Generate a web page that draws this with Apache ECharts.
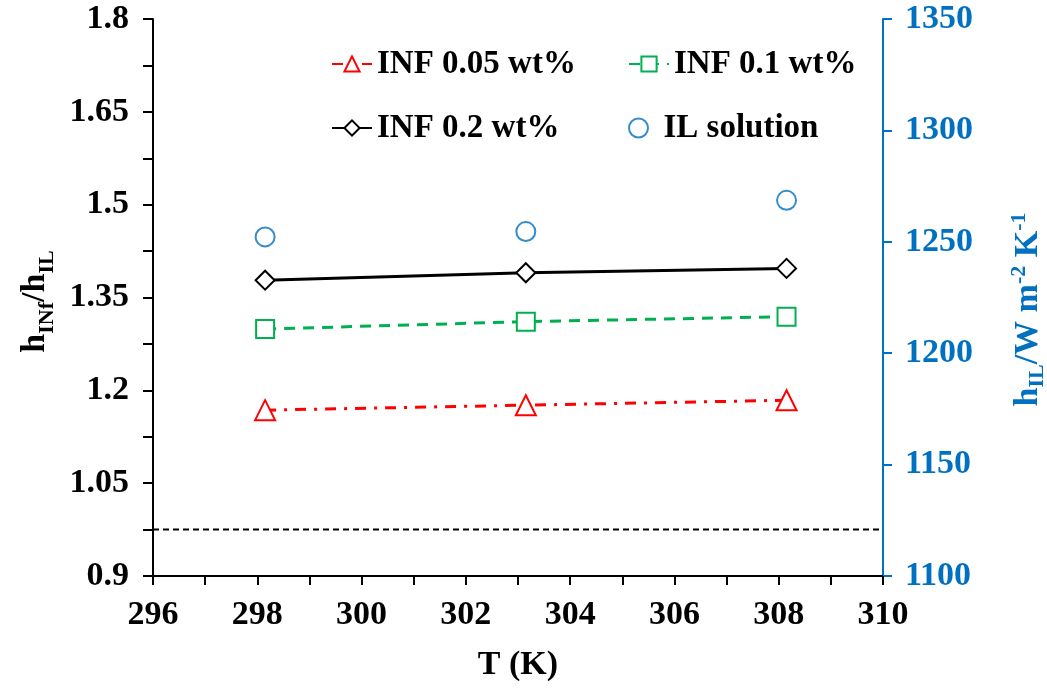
<!DOCTYPE html>
<html>
<head>
<meta charset="utf-8">
<script src="https://cdn.jsdelivr.net/npm/echarts@6/dist/echarts.min.js"></script>
<style>
html,body{margin:0;padding:0;background:#fff;}
#chart{width:1047px;height:696px;}
</style>
</head>
<body>
<div id="chart"></div>
<script>
// ---- data ----
const temperatures = [298.15, 303.15, 308.15];
const inf005 = [1.168, 1.176, 1.184];
const inf01 = [1.299, 1.311, 1.319];
const inf02 = [1.378, 1.390, 1.397];
const ilSolution = [1252.2, 1254.6, 1268.6];
const referenceLevel = 0.975;
const xRange = [296, 310];
const seriesNames = ['INF 0.05 wt%', 'INF 0.1 wt%', 'INF 0.2 wt%', 'IL solution'];

const FONT = '"Liberation Serif", "Times New Roman", serif';
const BLUE = '#0070C0';
const RED = '#FF0000';
const GREEN = '#00B050';

function pairs(xs, ys){ return xs.map((x,i)=>[x, ys[i]]); }

const chart = echarts.init(document.getElementById('chart'), null, {renderer:'canvas'});

const labelStyle = {fontFamily: FONT, fontWeight: 'bold', fontSize: 34, color: '#000'};
const legendText = {fontFamily: FONT, fontWeight: 'bold', fontSize: 33, color: '#000', lineHeight: 36};

function legendAt(name, left, top){
  return {
    data: [name], left: left, top: top, padding: 0, itemGap: 0,
    itemWidth: 40, itemHeight: 19, textStyle: legendText, selectedMode: false
  };
}

const option = {
  backgroundColor: '#fff',
  animation: false,
  grid: {left: 153, right: 164, top: 19, bottom: 120, containLabel: false, outerBoundsMode: 'none'},
  legend: [
    legendAt(seriesNames[0], 331, 46),
    legendAt(seriesNames[1], 628, 46),
    legendAt(seriesNames[2], 331, 110),
    legendAt(seriesNames[3], 628, 110)
  ],
  xAxis: [{
    type: 'value', min: xRange[0], max: xRange[1], interval: 2,
    name: 'T (K)', nameLocation: 'middle', nameGap: 72,
    nameTextStyle: labelStyle,
    axisLine: {show: true, onZero: false, lineStyle: {color: '#000', width: 2}},
    axisTick: {show: true, inside: false, length: 9, lineStyle: {color: '#000', width: 2}},
    minorTick: {show: true, splitNumber: 2, length: 9, lineStyle: {color: '#000', width: 2}},
    axisLabel: Object.assign({margin: 22}, labelStyle),
    splitLine: {show: false}
  }],
  yAxis: [{
    type: 'value', position: 'left', min: 0.9, max: 1.8, interval: 0.15,
    name: '{b|h}{s|INf}{b|/h}{s|IL}', nameLocation: 'middle', nameGap: 93, nameRotate: 90,
    nameTextStyle: {
      padding: [0, 8, 0, 0],
      rich: {
        b: {fontFamily: FONT, fontWeight: 'bold', fontSize: 34, color: '#000', lineHeight: 40, verticalAlign: 'bottom', padding:[0,0,6,0]},
        s: {fontFamily: FONT, fontWeight: 'bold', fontSize: 22, color: '#000', lineHeight: 22, verticalAlign: 'bottom'}
      }
    },
    axisLine: {show: true, onZero: false, lineStyle: {color: '#000', width: 2}},
    axisTick: {show: true, inside: false, length: 10, lineStyle: {color: '#000', width: 2}},
    minorTick: {show: true, splitNumber: 2, length: 10, lineStyle: {color: '#000', width: 2}},
    axisLabel: Object.assign({margin: 24, formatter: v => String(+v.toFixed(2))}, labelStyle),
    splitLine: {show: false}
  }, {
    type: 'value', position: 'right', min: 1100, max: 1350, interval: 50,
    name: '{b|h}{s|IL}{b|/W m}{p|-2}{b| K}{p|-1}', nameLocation: 'middle', nameGap: 125, nameRotate: 90,
    nameTextStyle: {
      padding: [0, 24, 0, 0],
      rich: {
        b: {fontFamily: FONT, fontWeight: 'bold', fontSize: 34, color: BLUE, lineHeight: 40, verticalAlign: 'middle'},
        s: {fontFamily: FONT, fontWeight: 'bold', fontSize: 22, color: BLUE, lineHeight: 22, verticalAlign: 'bottom', padding:[12,0,0,0]},
        p: {fontFamily: FONT, fontWeight: 'bold', fontSize: 22, color: BLUE, lineHeight: 22, verticalAlign: 'top', padding:[0,0,10,0]}
      }
    },
    axisLine: {show: true, onZero: false, lineStyle: {color: BLUE, width: 2}},
    axisTick: {show: true, inside: false, length: 9, lineStyle: {color: BLUE, width: 2}},
    axisLabel: Object.assign({}, labelStyle, {margin: 22, color: BLUE, formatter: v => String(v)}),
    splitLine: {show: false}
  }],
  series: [
    {
      name: seriesNames[0], type: 'line', xAxisIndex: 0, yAxisIndex: 0,
      data: pairs(temperatures, inf005),
      symbol: 'emptyTriangle', symbolSize: 20,
      lineStyle: {color: RED, width: 3, type: [11, 8, 3, 8]},
      itemStyle: {color: RED, borderWidth: 2.5}
    },
    {
      name: seriesNames[1], type: 'line', xAxisIndex: 0, yAxisIndex: 0,
      data: pairs(temperatures, inf01),
      symbol: 'emptyRect', symbolSize: 18,
      lineStyle: {color: GREEN, width: 3, type: [11, 8]},
      itemStyle: {color: GREEN, borderWidth: 2.5}
    },
    {
      name: seriesNames[2], type: 'line', xAxisIndex: 0, yAxisIndex: 0,
      data: pairs(temperatures, inf02),
      symbol: 'emptyDiamond', symbolSize: 19,
      lineStyle: {color: '#000', width: 3, type: 'solid'},
      itemStyle: {color: '#000', borderWidth: 2.5}
    },
    {
      name: seriesNames[3], type: 'scatter', xAxisIndex: 0, yAxisIndex: 1,
      data: pairs(temperatures, ilSolution),
      symbol: 'emptyCircle', symbolSize: 19,
      itemStyle: {color: BLUE, borderColor: BLUE, borderWidth: 2.5}
    },
    {
      name: 'reference', type: 'line', xAxisIndex: 0, yAxisIndex: 0,
      data: [[xRange[0], referenceLevel], [xRange[1], referenceLevel]],
      symbol: 'none', silent: true,
      lineStyle: {color: '#000', width: 2, type: [6, 4]}
    }
  ]
};
chart.setOption(option);
</script>
</body>
</html>
